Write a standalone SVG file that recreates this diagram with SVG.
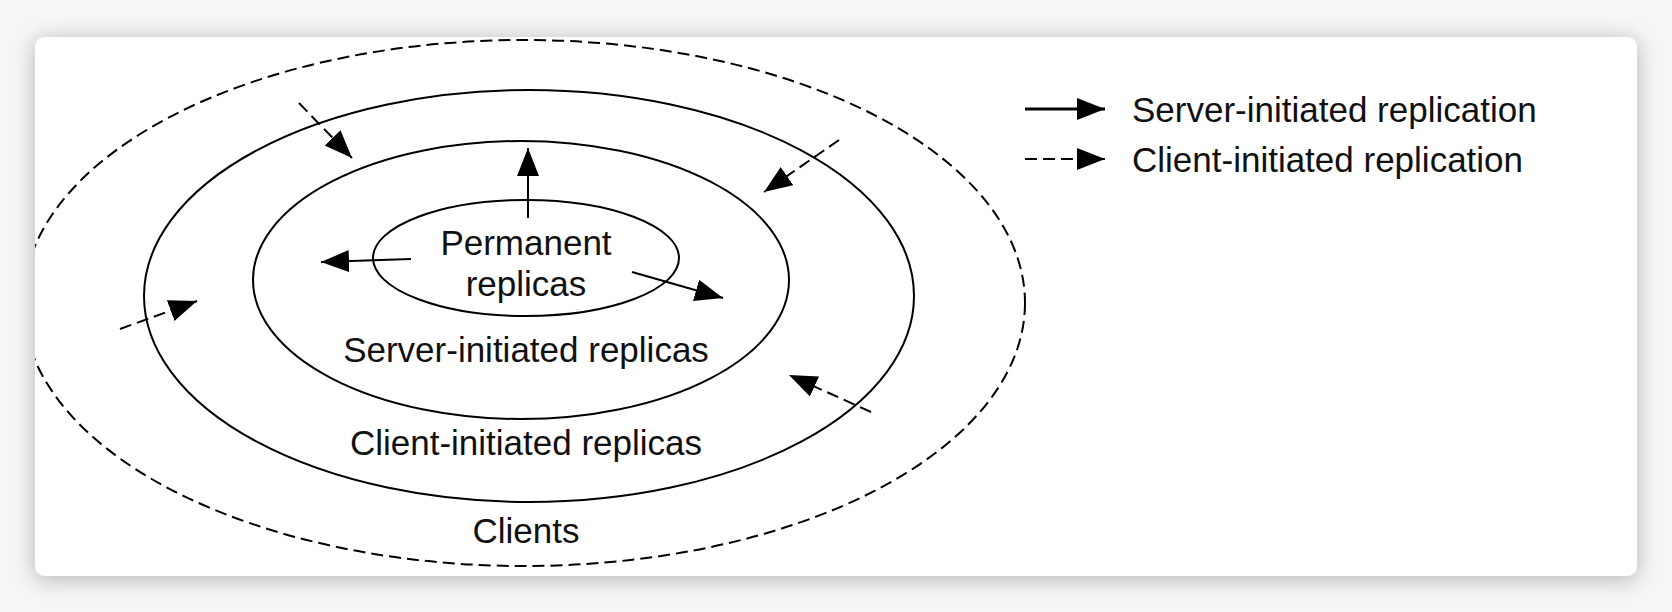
<svg xmlns="http://www.w3.org/2000/svg" width="1672" height="612" viewBox="0 0 1672 612">
  <defs>
    <filter id="shadow" x="-10%" y="-20%" width="120%" height="140%">
      <feDropShadow dx="0" dy="3" stdDeviation="11" flood-color="#000" flood-opacity="0.28"/>
    </filter>
    <clipPath id="cardClip">
      <rect x="35" y="37" width="1602" height="539" rx="10"/>
    </clipPath>
    <marker id="head" markerUnits="userSpaceOnUse" markerWidth="30" markerHeight="24" refX="28" refY="11" orient="auto">
      <path d="M0,0 L28,11 L0,22 Z" fill="#000"/>
    </marker>
    <style>
      .ring { fill: none; stroke: #000; stroke-width: 2; }
      .dashed { stroke-dasharray: 12 6; }
      .arrow { fill: none; stroke: #000; stroke-width: 2; marker-end: url(#head); }
      .lbl { font-family: "Liberation Sans", Arial, sans-serif; font-size: 35px; fill: #111; }
      .mid { text-anchor: middle; }
    </style>
  </defs>

  <rect x="0" y="0" width="1672" height="612" fill="#f6f6f6"/>
  <rect id="card" x="35" y="37" width="1602" height="539" rx="10" fill="#fff" filter="url(#shadow)"/>

  <g clip-path="url(#cardClip)">
    <g id="clients">
      <ellipse class="ring dashed" cx="524" cy="303" rx="501" ry="263"/>
      <text class="lbl mid" x="526" y="543">Clients</text>
    </g>
    <g id="client-initiated">
      <ellipse class="ring" cx="529" cy="296" rx="385" ry="206"/>
      <text class="lbl mid" x="526" y="455">Client-initiated replicas</text>
    </g>
    <g id="server-initiated">
      <ellipse class="ring" cx="521" cy="280" rx="268" ry="139"/>
      <text class="lbl mid" x="526" y="362">Server-initiated replicas</text>
    </g>
    <g id="permanent">
      <ellipse class="ring" cx="526" cy="258" rx="153" ry="58"/>
      <text class="lbl mid" x="526" y="255">Permanent</text>
      <text class="lbl mid" x="526" y="296">replicas</text>
    </g>

    <g id="connectors">
      <line class="arrow" x1="528" y1="218" x2="528" y2="148"/>
      <line class="arrow" x1="411" y1="259" x2="321" y2="262"/>
      <line class="arrow" x1="632" y1="272" x2="723" y2="298"/>
      <line class="arrow dashed" x1="299" y1="103" x2="352" y2="158"/>
      <line class="arrow dashed" x1="839" y1="140" x2="764" y2="192"/>
      <line class="arrow dashed" x1="120" y1="329" x2="197" y2="301"/>
      <line class="arrow dashed" x1="871" y1="412" x2="789" y2="375"/>
    </g>

    <g id="legend">
      <line class="arrow" x1="1025" y1="109" x2="1105" y2="109" stroke="#333" style="stroke-width:3"/>
      <text class="lbl" x="1132" y="122">Server-initiated replication</text>
      <line class="arrow dashed" x1="1025" y1="159" x2="1105" y2="159"/>
      <text class="lbl" x="1132" y="172">Client-initiated replication</text>
    </g>
  </g>
</svg>
